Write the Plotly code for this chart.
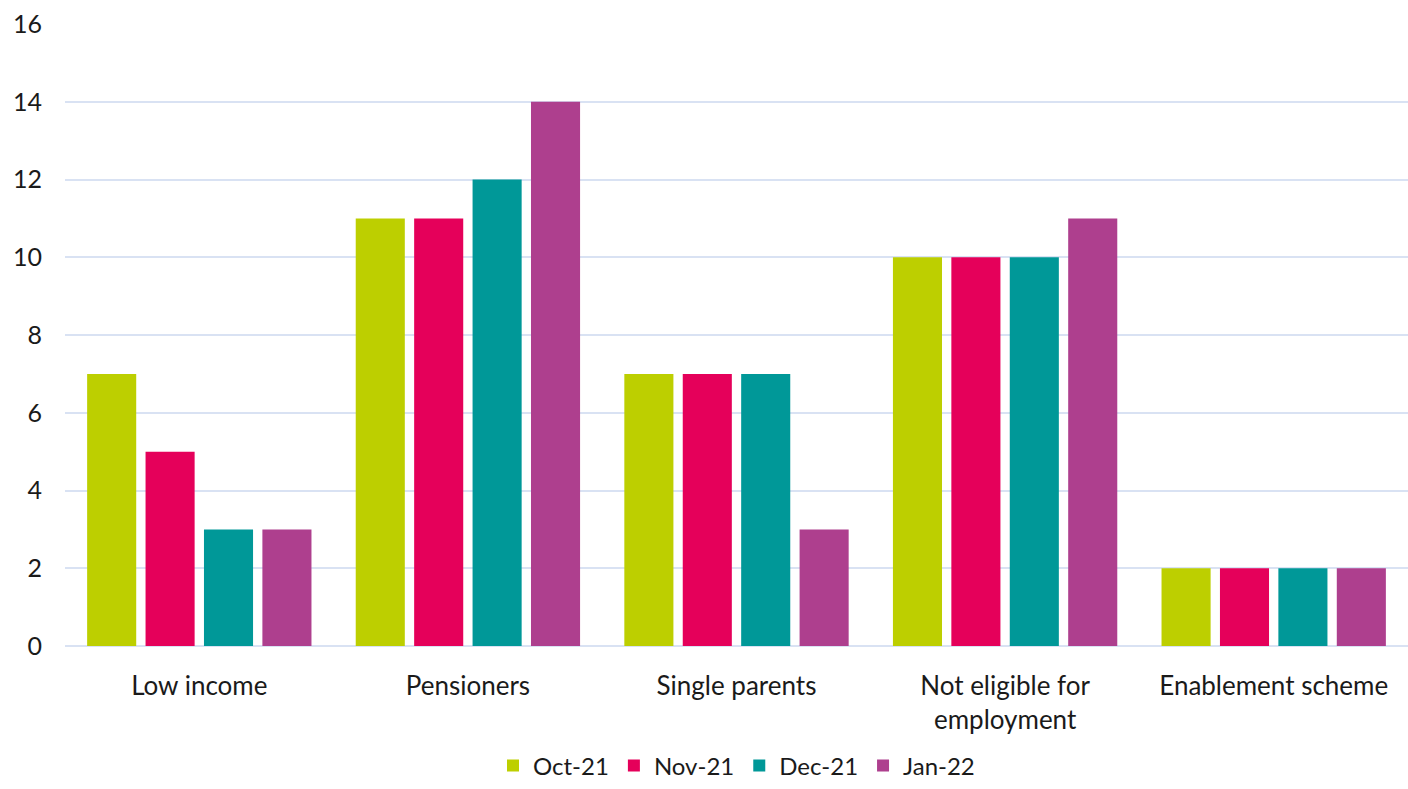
import plotly.graph_objects as go

categories = ["Low income", "Pensioners", "Single parents", "Not eligible for<br>employment", "Enablement scheme"]
series_names = ["Oct-21", "Nov-21", "Dec-21", "Jan-22"]
oct21 = [7, 11, 7, 10, 2]
nov21 = [5, 11, 7, 10, 2]
dec21 = [3, 12, 7, 10, 2]
jan22 = [3, 14, 3, 11, 2]
colors = ["#BDCF00", "#E5005A", "#009898", "#AE3F8E"]
y_ticks = [0, 2, 4, 6, 8, 10, 12, 14, 16]

fig = go.Figure()
for name, vals, col in zip(series_names, [oct21, nov21, dec21, jan22], colors):
    fig.add_trace(go.Bar(name=name, x=categories, y=vals, marker_color=col,
                         marker_line_width=0))

font = "Lato, Liberation Sans, sans-serif"
fig.update_layout(
    width=1408, height=789,
    margin=dict(l=65, r=0, t=24, b=143),
    paper_bgcolor="white", plot_bgcolor="white",
    barmode="group", bargap=0.13, bargroupgap=0.16,
    font=dict(family=font, size=24, color="#1a1a1a"),
    legend=dict(orientation="h", x=0.5, xanchor="center", y=-0.229, yanchor="bottom",
                font=dict(size=24), traceorder="normal", tracegroupgap=0),
    showlegend=True,
)
fig.update_yaxes(range=[0, 16], tickvals=y_ticks, showgrid=True, gridcolor="#D9E2F3",
                 gridwidth=2, zeroline=True, zerolinecolor="#D9E2F3", zerolinewidth=2,
                 showline=False, ticks="", ticklabelstandoff=22, tickfont=dict(size=25))
fig.update_xaxes(showgrid=False, showline=False, ticks="", ticklabelstandoff=22,
                 tickfont=dict(size=26))

fig.write_html("out.html")
